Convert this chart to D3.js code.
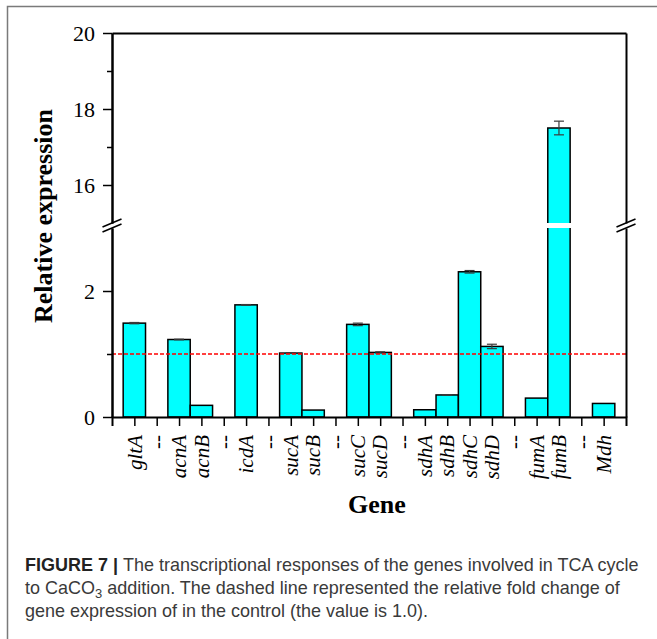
<!DOCTYPE html>
<html>
<head>
<meta charset="utf-8">
<script src="https://cdn.jsdelivr.net/npm/d3@7"></script>
<style>
  body { margin: 0; background: #fff; }
  svg { display: block; }
</style>
</head>
<body>
<svg id="vis"></svg>
<script>
const width = 657;
const height = 639;

// gene slots along the x axis ("--" are spacer slots with no bar)
const geneLabels = ["gltA", "--", "acnA", "acnB", "--", "icdA", "--", "sucA", "sucB", "--",
  "sucC", "sucD", "--", "sdhA", "sdhB", "sdhC", "sdhD", "--", "fumA", "fumB", "--", "Mdh"];
const expression = [1.49, null, 1.23, 0.185, null, 1.78, null, 1.015, 0.11, null,
  1.47, 1.025, null, 0.115, 0.35, 2.305, 1.12, null, 0.30, 17.5, null, 0.215];
const errors = [0.01, null, 0.005, 0, null, 0.005, null, 0.005, 0, null,
  0.02, 0.01, null, 0, 0.005, 0.02, 0.035, null, 0, 0.18, null, 0];
const controlLevel = 1.0;

const lowTicks = [0, 2];
const lowMinor = [1];
const highTicks = [16, 18, 20];
const highMinor = [17, 19];

const plotLeft = 112, plotRight = 626;
const breakLow = 3, breakHigh = 15;

const svg = d3.select("svg#vis").attr("width", width).attr("height", height);

// figure frame (top + left edge of the caption box)
svg.append("path")
  .attr("d", "M7.5," + (height + 5) + "V6.5H" + (width + 5))
  .attr("fill", "none").attr("stroke", "#7a7a7a").attr("stroke-width", 1.5);

const x = d3.scalePoint()
  .domain(d3.range(geneLabels.length))
  .range([plotLeft, plotRight])
  .padding(1);
const bw = x.step();

const yLow = d3.scaleLinear().domain([0, breakLow]).range([417, 228]);
const yHigh = d3.scaleLinear().domain([breakHigh, 20]).range([223, 33]);
const y = v => v <= breakLow ? yLow(v) : yHigh(v);

const plot = svg.append("g");

// bars
const bars = expression.map((v, i) => ({ i, v, e: errors[i] })).filter(d => d.v != null);

plot.selectAll("rect.bar")
  .data(bars)
  .enter()
  .append("rect")
  .attr("class", "bar")
  .attr("x", d => x(d.i) - bw / 2)
  .attr("width", bw)
  .attr("y", d => y(d.v))
  .attr("height", d => yLow(0) - y(d.v))
  .attr("fill", "#00ffff")
  .attr("stroke", "#000")
  .attr("stroke-width", 1.5);

// white gap across bars that run through the break
plot.selectAll("rect.gap")
  .data(bars.filter(d => d.v > breakLow))
  .enter()
  .append("rect")
  .attr("x", d => x(d.i) - bw / 2 - 2)
  .attr("width", bw + 4)
  .attr("y", yHigh(breakHigh))
  .attr("height", yLow(breakLow) - yHigh(breakHigh))
  .attr("fill", "#fff");

// error bars
const eb = plot.selectAll("g.err")
  .data(bars.filter(d => d.e > 0))
  .enter()
  .append("g")
  .attr("stroke", "#3a3a3a")
  .attr("stroke-width", 1.2);
eb.append("line")
  .attr("x1", d => x(d.i)).attr("x2", d => x(d.i))
  .attr("y1", d => y(d.v + d.e)).attr("y2", d => y(d.v - d.e));
eb.append("line")
  .attr("x1", d => x(d.i) - 5).attr("x2", d => x(d.i) + 5)
  .attr("y1", d => y(d.v + d.e)).attr("y2", d => y(d.v + d.e));
eb.append("line")
  .attr("x1", d => x(d.i) - 5).attr("x2", d => x(d.i) + 5)
  .attr("y1", d => y(d.v - d.e)).attr("y2", d => y(d.v - d.e));

// control level
plot.append("line")
  .attr("x1", plotLeft).attr("x2", plotRight)
  .attr("y1", yLow(controlLevel)).attr("y2", yLow(controlLevel))
  .attr("stroke", "#ff0000")
  .attr("stroke-width", 1.5)
  .attr("stroke-dasharray", "4,2");

// axes
function styleAxis(g) {
  g.selectAll(".domain").attr("stroke", "#000").attr("stroke-width", 2);
  g.selectAll(".tick line").attr("stroke", "#000").attr("stroke-width", 1.5);
  g.selectAll(".tick text")
    .attr("fill", "#000")
    .style("font-family", "'Liberation Serif', 'Times New Roman', serif")
    .style("font-size", "22px");
}

const axisG = svg.append("g");
const fmt = d3.format("d");

axisG.append("g")
  .attr("transform", translate(plotLeft, 0))
  .call(d3.axisLeft(yLow).tickValues(lowTicks).tickSize(9).tickSizeOuter(0).tickPadding(8).tickFormat(fmt))
  .call(styleAxis);
axisG.append("g")
  .attr("transform", translate(plotLeft, 0))
  .call(d3.axisLeft(yLow).tickValues(lowMinor).tickSize(5).tickSizeOuter(0).tickFormat(""))
  .call(styleAxis);
axisG.append("g")
  .attr("transform", translate(plotLeft, 0))
  .call(d3.axisLeft(yHigh).tickValues(highTicks).tickSize(9).tickSizeOuter(0).tickPadding(8).tickFormat(fmt))
  .call(styleAxis);
axisG.append("g")
  .attr("transform", translate(plotLeft, 0))
  .call(d3.axisLeft(yHigh).tickValues(highMinor).tickSize(5).tickSizeOuter(0).tickFormat(""))
  .call(styleAxis);

// right side and top frame
axisG.append("g")
  .attr("transform", translate(plotRight, 0))
  .call(d3.axisRight(yLow).tickValues([]).tickSizeOuter(0))
  .call(styleAxis);
axisG.append("g")
  .attr("transform", translate(plotRight, 0))
  .call(d3.axisRight(yHigh).tickValues([]).tickSizeOuter(0))
  .call(styleAxis);
axisG.append("g")
  .attr("transform", translate(0, yHigh(20)))
  .call(d3.axisTop(x).tickValues([]).tickSizeOuter(0))
  .call(styleAxis);

// break marks
[plotLeft, plotRight].forEach(px => {
  [yHigh(breakHigh), yLow(breakLow)].forEach(py => {
    axisG.append("line")
      .attr("x1", px - 9.5).attr("y1", py + 4)
      .attr("x2", px + 9.5).attr("y2", py - 4)
      .attr("stroke", "#000").attr("stroke-width", 1.5);
  });
});

// x axis
const xAxis = axisG.append("g")
  .attr("transform", translate(0, yLow(0)))
  .call(d3.axisBottom(x).tickSize(9).tickSizeOuter(9).tickFormat(i => geneLabels[i]))
  .call(styleAxis);
xAxis.selectAll(".tick text")
  .attr("transform", "rotate(-90)")
  .attr("text-anchor", "end")
  .attr("x", -18)
  .attr("y", 0)
  .attr("dy", "0.32em")
  .style("font-style", "italic")
  .style("font-size", "21px");

// axis titles
svg.append("text")
  .attr("transform", translate(52, 216) + " rotate(-90)")
  .attr("text-anchor", "middle")
  .style("font-family", "'Liberation Serif', 'Times New Roman', serif")
  .style("font-weight", "bold")
  .style("font-size", "26px")
  .text("Relative expression");

svg.append("text")
  .attr("x", 377)
  .attr("y", 513)
  .attr("text-anchor", "middle")
  .style("font-family", "'Liberation Serif', 'Times New Roman', serif")
  .style("font-weight", "bold")
  .style("font-size", "26px")
  .text("Gene");

// caption
const cap = svg.append("g")
  .style("font-family", "'Liberation Sans', Arial, sans-serif")
  .style("font-size", "18px")
  .attr("fill", "#3a3a3a");

const l1 = cap.append("text").attr("x", 0).attr("y", 571);
l1.append("tspan").attr("font-weight", "bold").attr("fill", "#222").text("FIGURE 7 | ");
l1.append("tspan").text("The transcriptional responses of the genes involved in TCA cycle");

const l2 = cap.append("text").attr("x", 0).attr("y", 594);
l2.append("tspan").text("to CaCO");
l2.append("tspan").attr("dy", 4).style("font-size", "13px").text("3");
l2.append("tspan").attr("dy", -4).text(" addition. The dashed line represented the relative fold change of");

cap.append("text").attr("x", 0).attr("y", 617)
  .text("gene expression of in the control (the value is 1.0).");

const w1 = l1.node().getComputedTextLength();
cap.attr("transform", "translate(25,0) scale(" + (614 / w1) + ",1)");

function translate(a, b) {
  return "translate(" + String(a) + "," + String(b) + ")";
}
</script>
</body>
</html>
